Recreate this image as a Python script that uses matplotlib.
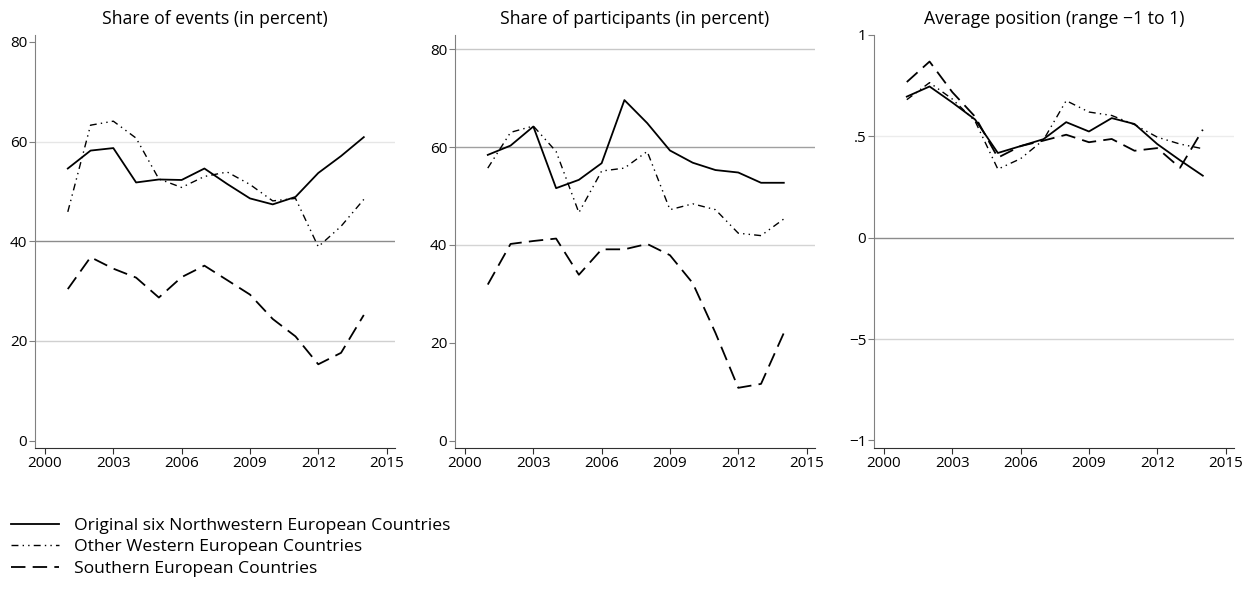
import matplotlib
matplotlib.use("Agg")
import matplotlib.pyplot as plt
from matplotlib.lines import Line2D

plt.rcParams['font.family'] = ['Open Sans', 'DejaVu Sans']

years = list(range(2001, 2015))

# Panel 1: share of events
ev_nw = [54.6, 58.2, 58.7, 51.8, 52.4, 52.3, 54.6, 51.5, 48.6, 47.4, 48.9, 53.7, 57.1, 60.9]
ev_ow = [45.9, 63.3, 64.1, 60.7, 52.5, 50.8, 53.0, 53.9, 51.4, 48.1, 48.6, 38.9, 43.0, 48.4]
ev_se = [30.4, 36.8, 34.5, 32.7, 28.7, 32.8, 35.1, 32.2, 29.3, 24.4, 20.9, 15.3, 17.6, 25.2]

# Panel 2: share of participants
pa_nw = [58.4, 60.3, 64.2, 51.6, 53.3, 56.7, 69.6, 64.9, 59.3, 56.8, 55.3, 54.8, 52.7, 52.7]
pa_ow = [55.7, 63.0, 64.3, 59.1, 46.6, 55.1, 55.7, 59.1, 47.2, 48.4, 47.2, 42.4, 41.9, 45.3]
pa_se = [31.9, 40.2, 40.8, 41.3, 33.9, 39.1, 39.1, 40.2, 37.9, 32.2, 22.0, 10.8, 11.6, 22.0]

# Panel 3: average position
po_nw = [0.696, 0.746, 0.667, 0.583, 0.418, 0.452, 0.486, 0.570, 0.524, 0.590, 0.561, 0.462, 0.382, 0.306]
po_ow = [0.681, 0.765, 0.684, 0.575, 0.338, 0.390, 0.482, 0.676, 0.620, 0.603, 0.558, 0.496, 0.462, 0.439]
po_se = [0.768, 0.869, 0.718, 0.597, 0.395, 0.452, 0.479, 0.508, 0.471, 0.487, 0.429, 0.442, 0.345, 0.533]

titles = ["Share of events (in percent)", "Share of participants (in percent)",
          "Average position (range \u22121 to 1)"]
xticks = [2000, 2003, 2006, 2009, 2012, 2015]
pct_ticks = [0, 20, 40, 60, 80]
pct_labels = ["0", "20", "40", "60", "80"]
pos_ticks = [-1, -0.5, 0, 0.5, 1]
pos_labels = ["\u22121", "\u22125", "0", ".5", "1"]
legend_labels = ["Original six Northwestern European Countries",
                 "Other Western European Countries",
                 "Southern European Countries"]

W, H = 1257, 590
fig = plt.figure(figsize=(W / 100, H / 100), dpi=100)

def ax_rect(l, r, t, b):
    return [l / W, 1 - b / H, (r - l) / W, (b - t) / H]

rects = [ax_rect(35, 395, 35, 448), ax_rect(455, 815, 35, 448), ax_rect(874, 1234, 35, 448)]

solid = dict(color='black', lw=1.3, ls='-')
dashdot = dict(color='black', lw=1.0, ls=(0, (5, 3, 1, 3, 1, 3)))
dashed = dict(color='black', lw=1.3, ls=(0, (8, 4)))

data = [(ev_nw, ev_ow, ev_se), (pa_nw, pa_ow, pa_se), (po_nw, po_ow, po_se)]
ylims = [(-1.5, 81.4), (-1.5, 82.9), (-1.0375, 1.0)]
grids = [
    [(60, '#e6e6e6'), (40, '#8c8c8c'), (20, '#d0d0d0')],
    [(80, '#c8c8c8'), (60, '#a0a0a0'), (40, '#d4d4d4')],
    [(0.5, '#ececec'), (0, '#8c8c8c'), (-0.5, '#d4d4d4')],
]

for i in range(3):
    ax = fig.add_axes(rects[i])
    nw, ow, se = data[i]
    for yv, c in grids[i]:
        ax.axhline(yv, color=c, lw=1.0, zorder=0)
    ax.plot(years, nw, **solid)
    ax.plot(years, ow, **dashdot)
    ax.plot(years, se, **dashed)
    ax.set_xlim(1999.56, 2015.37)
    ax.set_ylim(*ylims[i])
    ax.set_xticks(xticks)
    ax.set_xticklabels([str(x) for x in xticks])
    if i < 2:
        ax.set_yticks(pct_ticks)
        ax.set_yticklabels(pct_labels)
    else:
        ax.set_yticks(pos_ticks)
        ax.set_yticklabels(pos_labels)
    for s in ['top', 'right']:
        ax.spines[s].set_visible(False)
    ax.spines['left'].set_color('#808080')
    ax.spines['bottom'].set_color('#303030')
    ax.tick_params(axis='both', length=4, width=0.8, labelsize=11, pad=1.5, colors='#303030')
    ax.tick_params(axis='y', colors='#808080', labelcolor='black')
    ax.tick_params(axis='x', labelcolor='black')
    ax.set_title(titles[i], fontsize=12.7, pad=8)

handles = [Line2D([], [], **solid), Line2D([], [], **dashdot), Line2D([], [], **dashed)]
fig.legend(handles, legend_labels, loc='upper left', bbox_to_anchor=(0.0, 1 - 507 / H),
           frameon=False, fontsize=12.6, handlelength=2.8, handletextpad=0.8,
           labelspacing=0.3, borderaxespad=0.2)

fig.savefig("out.png", dpi=100)
